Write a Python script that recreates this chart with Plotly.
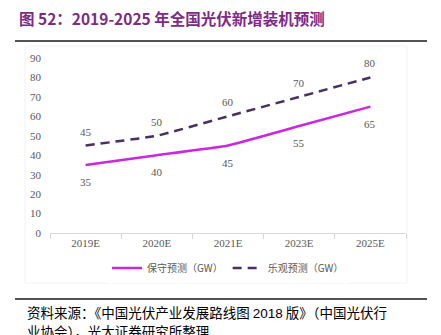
import plotly.graph_objects as go

categories = ["2019E", "2020E", "2021E", "2023E", "2025E"]
conservative = [35, 40, 45, 55, 65]
optimistic = [45, 50, 60, 70, 80]
y_ticks = [0, 10, 20, 30, 40, 50, 60, 70, 80, 90]

title_text = "图 52：2019-2025 年全国光伏新增装机预测"
source_line1 = "资料来源：《中国光伏产业发展路线图 <span style='font-family:Liberation Sans'>2018</span> 版》（中国光伏行"
source_line2 = "业协会），光大证券研究所整理"

W, H = 441, 335
L, R, T, B = 50, 35, 58, 102
serif = "'Liberation Serif', 'DejaVu Serif', serif"
cjk = "'Noto Sans CJK SC'"
label_color = "#595959"

def px(x):
    return (x - L) / (W - L - R)

def py(y):
    return (H - B - y) / (H - T - B)

fig = go.Figure()
fig.add_trace(go.Scatter(
    x=categories, y=conservative, mode="lines", name="保守预测（GW）",
    line=dict(color="#CC27E0", width=2.5, shape="spline", smoothing=0.3),
))
fig.add_trace(go.Scatter(
    x=categories, y=optimistic, mode="lines", name="乐观预测（GW）",
    line=dict(color="#4A2F65", width=2.5, dash="9px,6px", shape="spline", smoothing=0.3),
))

annotations = []
for c, v in zip(categories, conservative):
    annotations.append(dict(x=c, y=v, text=str(v), showarrow=False, yshift=-17,
                            font=dict(family=serif, size=11, color=label_color)))
for c, v in zip(categories, optimistic):
    annotations.append(dict(x=c, y=v, text=str(v), showarrow=False, yshift=14,
                            font=dict(family=serif, size=11, color=label_color)))

annotations += [
    dict(text=title_text, xref="paper", yref="paper", x=px(17), y=py(18),
         xanchor="left", yanchor="middle", showarrow=False,
         font=dict(family=cjk, size=15.5, color="#7E2A86", weight="bold")),
    dict(text=source_line1, xref="paper", yref="paper", x=px(25), y=py(312),
         xanchor="left", yanchor="middle", showarrow=False,
         font=dict(family=cjk, size=13.5, color="#000000")),
    dict(text=source_line2, xref="paper", yref="paper", x=px(25), y=py(331),
         xanchor="left", yanchor="middle", showarrow=False,
         font=dict(family=cjk, size=13.5, color="#000000")),
]

fig.update_layout(
    width=W, height=H,
    margin=dict(l=L, r=R, t=T, b=B),
    paper_bgcolor="white", plot_bgcolor="white",
    showlegend=True,
    legend=dict(orientation="h", x=0.5, xanchor="center", y=py(268), yanchor="middle",
                font=dict(family=cjk, size=10, color=label_color),
                itemwidth=30, tracegroupgap=0),
    xaxis=dict(
        type="category", range=[-0.5, 4.5], showgrid=False, zeroline=False,
        showline=True, linecolor="#D9D9D9", linewidth=1,
        ticks="outside", tickson="boundaries", ticklen=5, tickcolor="#D9D9D9",
        tickfont=dict(family=serif, size=11, color=label_color),
    ),
    yaxis=dict(
        range=[0, 90], tickvals=y_ticks, showgrid=False, zeroline=False,
        showline=False, ticks="", ticklabelstandoff=8,
        tickfont=dict(family=serif, size=11, color=label_color),
    ),
    shapes=[
        dict(type="line", xref="paper", yref="paper", x0=px(15), x1=px(427),
             y0=py(41), y1=py(41), line=dict(color="#1a1a1a", width=1.5)),
        dict(type="line", xref="paper", yref="paper", x0=px(15), x1=px(427),
             y0=py(299), y1=py(299), line=dict(color="#1a1a1a", width=1.5)),
        dict(type="rect", xref="paper", yref="paper", x0=px(25), x1=px(407),
             y0=py(283), y1=py(46), line=dict(color="#F2F2F2", width=1), layer="below"),
    ],
    annotations=annotations,
)

fig.write_html("out.html")
